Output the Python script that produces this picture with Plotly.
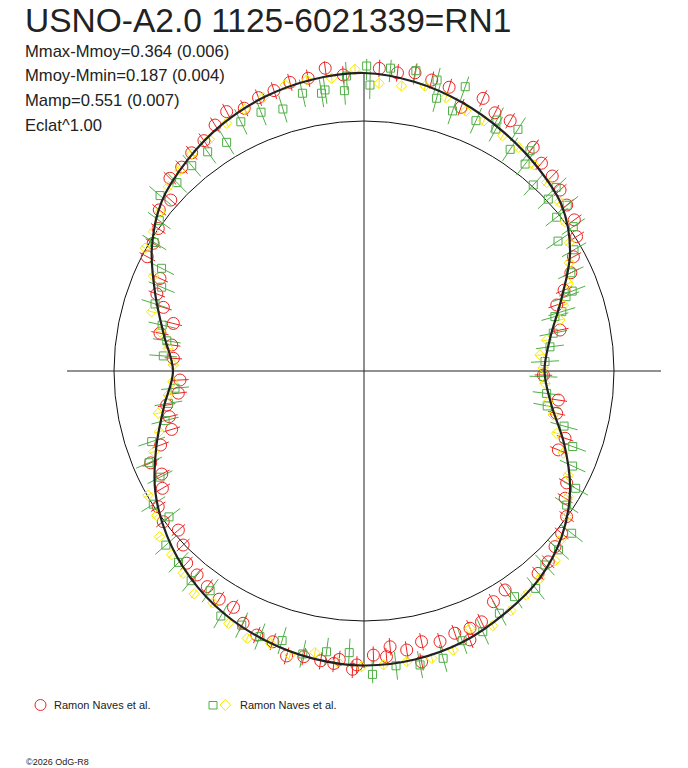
import plotly.graph_objects as go

W, H = 688, 768
# the page draws the figure 8 px in from its top-left corner
OFF = 8

title = "USNO-A2.0 1125-6021339=RN1"
stats = ["Mmax-Mmoy=0.364 (0.006)", "Mmoy-Mmin=0.187 (0.004)",
         "Mamp=0.551 (0.007)", "Eclat^1.00"]
observer = "Ramon Naves et al."
credit = "©2026 OdG-R8"

# brightest point above mean (mag), sets the extent of the cross
mmoy_mmin = 0.187

# phase angle in degrees (0 at top, clockwise) and relative brightness (Eclat^1)
fit_phase = [0, 10, 20, 30, 40, 50, 60, 70, 80, 90, 100, 110, 120, 130, 140, 150, 160, 170,
             180, 190, 200, 210, 220, 230, 240, 250, 260, 270, 280, 290, 300, 310, 320, 330, 340, 350, 360]
fit_flux = [1.192, 1.174, 1.144, 1.108, 1.072, 1.032, 0.952, 0.840, 0.756, 0.722, 0.760, 0.852,
            0.952, 1.032, 1.088, 1.122, 1.154, 1.172, 1.178, 1.168, 1.148, 1.120, 1.080, 1.028,
            0.964, 0.884, 0.812, 0.764, 0.812, 0.888, 0.980, 1.056, 1.100, 1.138, 1.166, 1.184, 1.192]

red_phase = [2.9, 6.4, 9.7, 13.1, 16.7, 20.2, 23.6, 26.9, 30.3, 37.1, 40.5, 44.0, 47.3, 50.7,
             54.3, 57.7, 61.4, 64.6, 68.0, 71.1, 78.2, 91.3, 98.5, 102.4, 108.5, 112.1, 118.9,
             122.3, 125.7, 129.4, 132.6, 136.0, 139.3, 147.2, 150.7, 154.9, 157.6, 158.5, 160.9,
             164.3, 168.0, 168.8, 171.3, 174.6, 175.5, 178.1, 181.4, 182.2, 184.9, 185.9, 188.5,
             191.9, 195.2, 198.6, 202.1, 205.6, 208.9, 212.4, 216.0, 219.3, 222.7, 226.1, 229.4,
             233.1, 236.6, 239.8, 243.0, 246.7, 250.0, 253.1, 256.8, 260.2, 263.2, 267.2, 273.8,
             277.7, 280.5, 284.0, 287.6, 290.4, 294.4, 297.8, 301.2, 304.7, 308.2, 311.5, 314.8,
             318.2, 321.7, 325.2, 328.8, 332.1, 335.5, 338.9, 342.2, 345.6, 349.2, 352.7, 356.0]
red_flux = [1.212, 1.200, 1.210, 1.195, 1.185, 1.124, 1.190, 1.158, 1.159, 1.122, 1.093, 1.084,
            1.067, 1.048, 1.036, 1.006, 0.954, 0.916, 0.863, 0.815, 0.801, 0.718, 0.786, 0.789,
            0.848, 0.839, 0.926, 0.952, 0.998, 1.023, 1.038, 1.061, 1.068, 1.042, 1.058, 1.108,
            1.113, 1.156, 1.110, 1.124, 1.107, 1.186, 1.129, 1.108, 1.146, 1.137, 1.176, 1.194,
            1.158, 1.176, 1.172, 1.168, 1.181, 1.143, 1.140, 1.119, 1.080, 1.081, 1.066, 1.054,
            1.046, 1.004, 0.978, 1.004, 0.986, 0.933, 0.908, 0.929, 0.866, 0.804, 0.800, 0.801,
            0.748, 0.737, 0.764, 0.776, 0.830, 0.786, 0.842, 0.884, 0.896, 0.980, 0.986, 1.001,
            1.042, 1.032, 1.094, 1.094, 1.112, 1.122, 1.150, 1.174, 1.155, 1.172, 1.178, 1.192,
            1.192, 1.221, 1.187]
red_err = 0.035

green_phase = [0.5, 1.2, 5.0, 9.8, 14.1, 19.6, 14.9, 18.8, 24.1, 27.9, 28.6, 32.5, 33.4, 37.0,
               37.9, 42.3, 46.3, 47.0, 50.8, 51.4, 55.4, 56.2, 60.0, 64.6, 69.0, 69.8, 73.3, 74.1,
               78.7, 82.6, 87.0, 91.8, 97.0, 100.8, 105.4, 109.9, 114.5, 119.0, 123.5, 128.0,
               132.6, 137.0, 141.7, 146.3, 150.8, 155.5, 160.0, 164.6, 169.2, 173.8, 178.4, 183.0,
               187.6, 192.2, 196.9, 201.4, 205.7, 210.3, 215.0, 219.5, 224.1, 228.7, 233.2, 237.7,
               242.5, 246.9, 251.6, 256.0, 260.6, 264.8, 274.3, 278.7, 282.8, 287.8, 292.5, 296.9,
               301.5, 306.3, 310.7, 315.2, 320.0, 324.5, 329.0, 333.7, 338.3, 342.8, 347.5, 351.3,
               352.1, 356.0, 356.6]
green_flux = [1.220, 1.144, 1.216, 1.219, 1.200, 1.207, 1.129, 1.099, 1.097, 1.136, 1.102, 1.146,
              1.062, 1.103, 1.049, 1.006, 1.063, 1.008, 1.049, 0.986, 1.017, 0.934, 0.970, 0.916,
              0.892, 0.861, 0.826, 0.794, 0.772, 0.750, 0.725, 0.718, 0.736, 0.746, 0.830, 0.888,
              0.917, 0.968, 0.972, 1.054, 1.057, 1.061, 1.108, 1.085, 1.110, 1.146, 1.148, 1.192,
              1.197, 1.186, 1.214, 1.128, 1.133, 1.158, 1.127, 1.141, 1.128, 1.135, 1.073, 1.087,
              1.066, 1.055, 0.974, 0.997, 0.920, 0.935, 0.895, 0.820, 0.793, 0.759, 0.805, 0.798,
              0.828, 0.878, 0.876, 0.908, 0.984, 1.016, 1.076, 1.062, 1.072, 1.077, 1.067, 1.112,
              1.114, 1.097, 1.138, 1.124, 1.135, 1.124, 1.182]
green_err = 0.056

yellow_phase = [3.0, 7.5, 12.1, 16.7, 21.4, 25.6, 30.5, 34.6, 39.5, 44.1, 49.1, 53.4, 58.0, 62.2,
                66.8, 71.7, 75.4, 80.4, 84.8, 89.0, 93.9, 99.5, 103.1, 107.9, 112.4, 117.0, 121.6,
                125.7, 130.4, 134.8, 139.7, 144.1, 148.5, 153.2, 157.6, 162.3, 166.7, 171.6, 176.2,
                180.5, 185.2, 189.9, 194.6, 198.9, 203.6, 208.2, 213.1, 217.3, 221.8, 226.3, 231.0,
                235.1, 240.1, 249.0, 253.5, 258.4, 263.0, 266.8, 271.8, 276.6, 280.9, 285.6, 294.3,
                299.3, 303.5, 308.0, 313.3, 317.5, 321.6, 326.3, 331.0, 335.5, 339.8, 344.6, 348.9,
                353.7, 358.3]
yellow_flux = [1.152, 1.150, 1.166, 1.142, 1.117, 1.109, 1.092, 1.087, 1.068, 1.050, 1.034, 1.002,
               0.968, 0.928, 0.889, 0.840, 0.810, 0.741, 0.707, 0.717, 0.726, 0.747, 0.777, 0.810,
               0.862, 0.917, 0.960, 0.998, 1.038, 1.077, 1.088, 1.106, 1.124, 1.142, 1.113, 1.172,
               1.181, 1.175, 1.178, 1.183, 1.168, 1.144, 1.174, 1.152, 1.167, 1.145, 1.107, 1.121,
               1.085, 1.064, 1.053, 1.011, 0.997, 0.900, 0.854, 0.840, 0.789, 0.766, 0.763, 0.788,
               0.831, 0.882, 0.924, 1.004, 1.010, 1.035, 1.075, 1.090, 1.108, 1.114, 1.133, 1.150,
               1.166, 1.187, 1.186, 1.178, 1.207]
yellow_err = 0.02

RED = "#ee2424"
GREEN = "#4fae45"
YELLOW = "#f7ea00"
INK = "#222222"


def px(x):
    return (x - OFF) / W


def py(y):
    return 1 - (y - OFF) / H


def radial_bars(phase, flux, err):
    r, t = [], []
    for p, f in zip(phase, flux):
        r += [f - err, f + err, None]
        t += [p, p, None]
    return r, t


fig = go.Figure()

# axes cross, reaching the brightest level
rx = 10 ** (0.4 * mmoy_mmin)
fig.add_trace(go.Scatterpolar(r=[rx, 0, rx, None, rx, 0, rx],
                              theta=[0, 0, 180, None, 90, 90, 270],
                              mode="lines", line=dict(color=INK, width=1)))

for phase, flux, err, color in [(red_phase, red_flux, red_err, RED),
                                (green_phase, green_flux, green_err, GREEN),
                                (yellow_phase, yellow_flux, yellow_err, YELLOW)]:
    r, t = radial_bars(phase, flux, err)
    fig.add_trace(go.Scatterpolar(r=r, theta=t, mode="lines",
                                  line=dict(color=color, width=1)))

fig.add_trace(go.Scatterpolar(r=red_flux, theta=red_phase, mode="markers",
                              marker=dict(symbol="circle-open", size=12,
                                          line=dict(color=RED, width=1), color=RED)))
fig.add_trace(go.Scatterpolar(r=green_flux, theta=green_phase, mode="markers",
                              marker=dict(symbol="square-open", size=8,
                                          line=dict(color=GREEN, width=1), color=GREEN)))
fig.add_trace(go.Scatterpolar(r=yellow_flux, theta=yellow_phase, mode="markers",
                              marker=dict(symbol="diamond-open", size=8,
                                          line=dict(color=YELLOW, width=1), color=YELLOW)))

# fitted light curve
fig.add_trace(go.Scatterpolar(r=fit_flux, theta=fit_phase, mode="lines",
                              line=dict(color=INK, width=2.2, shape="spline")))

# polar area: mean brightness (r=1) is 250 px, centre at (364, 371)
rmax = 1.25
half = rmax * 250
fig.update_layout(
    width=W, height=H,
    margin=dict(l=0, r=0, t=0, b=0),
    paper_bgcolor="white",
    showlegend=False,
    hovermode=False,
    polar=dict(
        domain=dict(x=[px(364 - half), px(364 + half)], y=[py(371 + half), py(371 - half)]),
        bgcolor="rgba(0,0,0,0)",
        radialaxis=dict(range=[0, rmax], tickvals=[1.0], showticklabels=False, ticks="",
                        showline=False, gridcolor="#111111", gridwidth=1),
        angularaxis=dict(rotation=90, direction="clockwise", showgrid=False, showline=False,
                         showticklabels=False, ticks=""),
    ),
)

font = "Liberation Sans, Arial, sans-serif"
fig.add_annotation(text=title, x=px(23), y=py(33), xref="paper", yref="paper",
                   xanchor="left", yanchor="bottom", yshift=-8, showarrow=False,
                   font=dict(family=font, size=33.5, color=INK))
for i, s in enumerate(stats):
    fig.add_annotation(text=s, x=px(23), y=py(51 + 24.7 * i), xref="paper", yref="paper",
                       xanchor="left", yanchor="middle", showarrow=False,
                       font=dict(family=font, size=16.6, color=INK))

# legend
fig.add_shape(type="circle", xref="paper", yref="paper",
              x0=px(35), x1=px(46), y0=py(710.5), y1=py(699.5), line=dict(color=RED, width=1))
fig.add_shape(type="rect", xref="paper", yref="paper",
              x0=px(209), x1=px(217), y0=py(709), y1=py(701.5), line=dict(color=GREEN, width=1))
fig.add_shape(type="path", xref="paper", yref="paper",
              path=f"M {px(225.3)},{py(699.5)} L {px(230.6)},{py(705)} L {px(225.3)},{py(710.5)} "
                   f"L {px(220)},{py(705)} Z",
              line=dict(color=YELLOW, width=1))
for x0 in (52, 238):
    fig.add_annotation(text=observer, x=px(x0), y=py(705), xref="paper", yref="paper",
                       xanchor="left", yanchor="middle", showarrow=False,
                       font=dict(family=font, size=11, color=INK))
fig.add_annotation(text=credit, x=px(24), y=py(762), xref="paper", yref="paper",
                   xanchor="left", yanchor="middle", showarrow=False,
                   font=dict(family=font, size=9, color=INK))

fig.write_html("out.html")
